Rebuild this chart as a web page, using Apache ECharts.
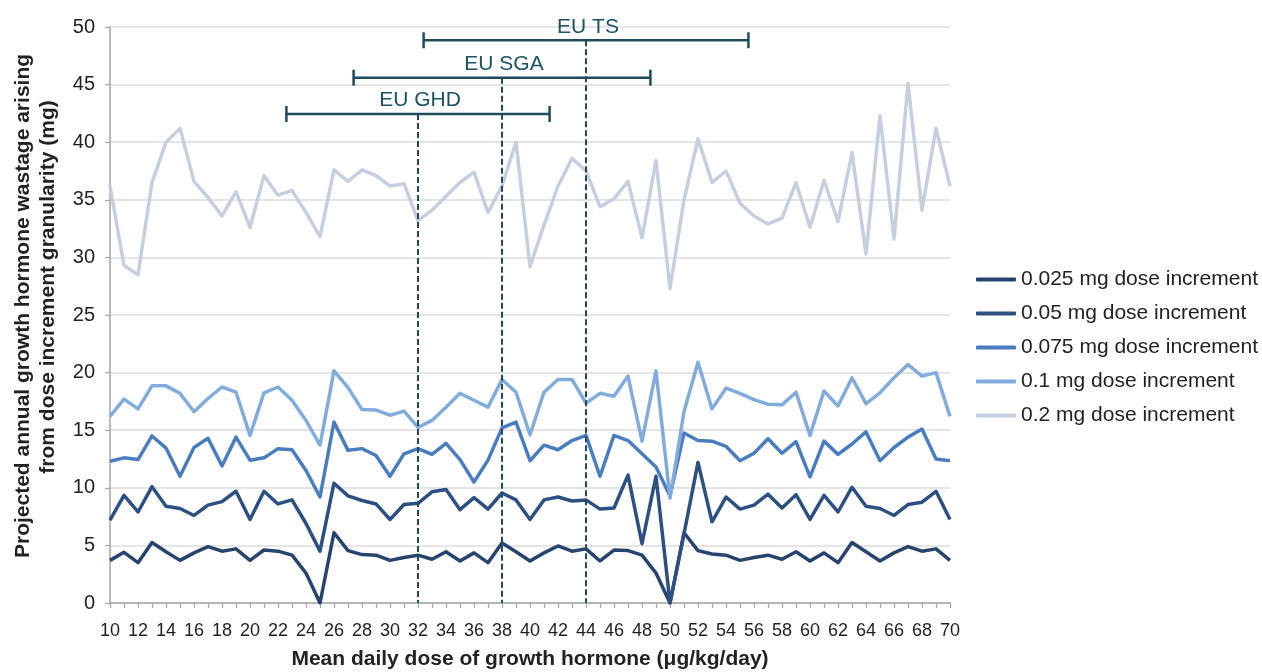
<!DOCTYPE html>
<html>
<head>
<meta charset="utf-8">
<title>Growth hormone wastage by dose increment</title>
<script src="https://cdn.jsdelivr.net/npm/echarts@6/dist/echarts.min.js"></script>
<style>
  html, body { margin: 0; padding: 0; background: #ffffff; }
  #chart { width: 1262px; height: 672px; }
</style>
</head>
<body>
<div id="chart"></div>
<script>
// Mean daily dose (µg/kg/day)
const doses = [10, 11, 12, 13, 14, 15, 16, 17, 18, 19, 20, 21, 22, 23, 24, 25, 26, 27, 28, 29,
  30, 31, 32, 33, 34, 35, 36, 37, 38, 39, 40, 41, 42, 43, 44, 45, 46, 47, 48, 49,
  50, 51, 52, 53, 54, 55, 56, 57, 58, 59, 60, 61, 62, 63, 64, 65, 66, 67, 68, 69, 70];

// Projected annual wastage (mg) for each dose increment
const inc025 = [3.7, 4.4, 3.5, 5.25, 4.45, 3.7, 4.35, 4.9, 4.5, 4.7, 3.7, 4.6, 4.5, 4.15, 2.6, 0,
  6.1, 4.55, 4.2, 4.15, 3.7, 3.95, 4.15, 3.8, 4.45, 3.65, 4.35, 3.5, 5.2, 4.45, 3.65, 4.35,
  4.95, 4.5, 4.7, 3.65, 4.6, 4.55, 4.15, 2.6, 0, 6.1, 4.55, 4.25, 4.15, 3.7, 3.95, 4.15,
  3.8, 4.45, 3.65, 4.35, 3.5, 5.25, 4.45, 3.65, 4.35, 4.9, 4.5, 4.7, 3.7];
const inc05 = [7.2, 9.35, 7.9, 10.1, 8.4, 8.2, 7.6, 8.5, 8.8, 9.7, 7.25, 9.7, 8.6, 8.95, 6.9, 4.5,
  10.4, 9.3, 8.9, 8.6, 7.25, 8.55, 8.65, 9.65, 9.85, 8.1, 9.15, 8.15, 9.55, 8.95, 7.25, 8.95,
  9.2, 8.85, 8.95, 8.15, 8.25, 11.1, 5.15, 11.0, 0, 6.0, 12.2, 7.05, 9.2, 8.15, 8.5, 9.45,
  8.25, 9.4, 7.25, 9.35, 7.9, 10.05, 8.4, 8.2, 7.6, 8.55, 8.75, 9.7, 7.25];
const inc075 = [12.3, 12.6, 12.45, 14.5, 13.45, 11.0, 13.5, 14.3, 11.9, 14.4, 12.4, 12.6, 13.4, 13.3, 11.5, 9.2,
  15.7, 13.25, 13.4, 12.8, 11.0, 12.95, 13.4, 12.9, 13.85, 12.45, 10.5, 12.4, 15.2, 15.7, 12.35, 13.7,
  13.3, 14.1, 14.55, 11.0, 14.55, 14.1, 12.95, 11.8, 9.3, 14.75, 14.1, 14.05, 13.6, 12.35, 13.0, 14.25,
  13.0, 14.0, 10.95, 14.05, 12.9, 13.8, 14.85, 12.35, 13.5, 14.4, 15.1, 12.5, 12.35];
const inc10 = [16.2, 17.7, 16.85, 18.85, 18.85, 18.2, 16.6, 17.75, 18.75, 18.3, 14.55, 18.25, 18.75, 17.6, 15.85, 13.7,
  20.15, 18.7, 16.8, 16.75, 16.3, 16.65, 15.25, 15.85, 17.0, 18.2, 17.6, 17.0, 19.4, 18.3, 14.6, 18.3,
  19.4, 19.4, 17.35, 18.2, 17.95, 19.7, 14.05, 20.15, 9.1, 16.6, 20.9, 16.85, 18.65, 18.2, 17.65, 17.25,
  17.2, 18.3, 14.55, 18.4, 17.1, 19.55, 17.3, 18.25, 19.55, 20.7, 19.7, 20.0, 16.2];
const inc20 = [36.2, 29.3, 28.5, 36.5, 40.0, 41.2, 36.6, 35.2, 33.6, 35.7, 32.6, 37.1, 35.4, 35.8, 33.9, 31.8,
  37.6, 36.6, 37.6, 37.1, 36.2, 36.4, 33.2, 34.1, 35.3, 36.5, 37.4, 33.9, 36.2, 40.0, 29.2, 32.8,
  36.2, 38.6, 37.5, 34.4, 35.1, 36.6, 31.7, 38.4, 27.3, 35.0, 40.3, 36.5, 37.5, 34.7, 33.6, 32.9,
  33.4, 36.5, 32.6, 36.7, 33.1, 39.1, 30.3, 42.3, 31.6, 45.1, 34.1, 41.2, 36.2];

const seriesNames = ['0.025 mg dose increment', '0.05 mg dose increment', '0.075 mg dose increment',
  '0.1 mg dose increment', '0.2 mg dose increment'];
const seriesColors = ['#27446f', '#2d4f82', '#4a7dc0', '#82acdc', '#c7cedf'];

// Licensed-indication dose ranges: mean dose and low/high bounds (µg/kg/day)
const bandNames = ['EU GHD', 'EU SGA', 'EU TS'];
const bandMeans = [32, 38, 44];
const bandLows = [22.6, 27.4, 32.4];
const bandHighs = [41.4, 48.6, 55.6];
const bandLevels = [42.45, 45.6, 48.85];

// y-axis ticks
const yTicks = [0, 5, 10, 15, 20, 25, 30, 35, 40, 45, 50];

// axis titles
const xTitle = 'Mean daily dose of growth hormone (\u03bcg/kg/day)';
const yTitleLines = ['Projected annual growth hormone wastage arising',
  'from dose increment granularity (mg)'];

const FONT = '"Liberation Sans", Arial, Helvetica, sans-serif';
const RANGE_COLOR = '#1e4c5c';
const TEXT_COLOR = '#222222';

const chart = echarts.init(document.getElementById('chart'), null, { renderer: 'canvas' });

const lineSeries = [inc025, inc05, inc075, inc10, inc20].map((vals, k) => ({
  name: seriesNames[k],
  type: 'line',
  data: doses.map((d, i) => [d, vals[i]]),
  symbol: 'none',
  smooth: false,
  lineStyle: { color: seriesColors[k], width: 3.5, join: 'round' },
  itemStyle: { color: seriesColors[k] },
  z: 2
}));

const rangeSeries = {
  type: 'custom',
  name: 'ranges',
  silent: true,
  z: 10,
  data: bandNames.map((n, i) => [bandMeans[i], bandLows[i], bandHighs[i], bandLevels[i], i]),
  encode: { x: [0, 1, 2], y: 3 },
  renderItem: function (params, api) {
    const mean = api.value(0), lo = api.value(1), hi = api.value(2), lvl = api.value(3);
    const idx = api.value(4);
    const pLo = api.coord([lo, lvl]);
    const pHi = api.coord([hi, lvl]);
    const pMean = api.coord([mean, lvl]);
    const pBase = api.coord([mean, 0]);
    const cap = 8;
    const solid = { stroke: RANGE_COLOR, lineWidth: 2.5, fill: null };
    return {
      type: 'group',
      children: [
        { type: 'line', shape: { x1: pLo[0], y1: pLo[1], x2: pHi[0], y2: pHi[1] }, style: solid },
        { type: 'line', shape: { x1: pLo[0], y1: pLo[1] - cap, x2: pLo[0], y2: pLo[1] + cap }, style: solid },
        { type: 'line', shape: { x1: pHi[0], y1: pHi[1] - cap, x2: pHi[0], y2: pHi[1] + cap }, style: solid },
        {
          type: 'line',
          shape: { x1: pMean[0], y1: pMean[1], x2: pBase[0], y2: pBase[1] },
          style: { stroke: RANGE_COLOR, lineWidth: 2, lineDash: [6, 3], fill: null }
        },
        {
          type: 'text',
          x: pMean[0] + 2,
          y: pMean[1] - 3,
          style: {
            text: bandNames[idx],
            fill: '#1b5266',
            font: '21px ' + FONT,
            align: 'center',
            verticalAlign: 'bottom'
          }
        }
      ]
    };
  }
};

const option = {
  animation: false,
  backgroundColor: '#ffffff',
  textStyle: { fontFamily: FONT },
  grid: { left: 110, right: 312, top: 27, bottom: 69, containLabel: false, outerBoundsMode: 'none' },
  legend: {
    data: seriesNames,
    orient: 'vertical',
    left: 971,
    top: 264,
    itemWidth: 40,
    itemHeight: 4,
    itemGap: 13,
    icon: 'roundRect',
    textStyle: { fontFamily: FONT, fontSize: 21, color: TEXT_COLOR, lineHeight: 21 }
  },
  graphic: [
    {
      type: 'text',
      x: 23,
      y: 306,
      rotation: Math.PI / 2,
      style: {
        text: yTitleLines[0],
        font: 'bold 21px ' + FONT,
        fill: TEXT_COLOR,
        align: 'center',
        verticalAlign: 'middle'
      }
    },
    {
      type: 'text',
      x: 48,
      y: 287,
      rotation: Math.PI / 2,
      style: {
        text: yTitleLines[1],
        font: 'bold 21px ' + FONT,
        fill: TEXT_COLOR,
        align: 'center',
        verticalAlign: 'middle'
      }
    }
  ],
  xAxis: {
    type: 'value',
    min: 10,
    max: 70,
    interval: 2,
    name: xTitle,
    nameLocation: 'middle',
    nameGap: 46,
    nameTextStyle: { fontFamily: FONT, fontSize: 21, fontWeight: 'bold', color: TEXT_COLOR },
    axisLine: { show: true, onZero: false, lineStyle: { color: '#a6a6a6', width: 1.5 } },
    axisTick: { show: true, length: 5, lineStyle: { color: '#a6a6a6', width: 1.2 } },
    minorTick: { show: true, splitNumber: 2, length: 5, lineStyle: { color: '#a6a6a6', width: 1.2 } },
    axisLabel: { fontFamily: FONT, fontSize: 18, color: '#1f1f1f', margin: 19 },
    splitLine: { show: false }
  },
  yAxis: {
    type: 'value',
    min: yTicks[0],
    max: yTicks[yTicks.length - 1],
    interval: yTicks[1] - yTicks[0],
    axisLine: { show: true, lineStyle: { color: '#a6a6a6', width: 1.5 } },
    axisTick: { show: true, length: 5, lineStyle: { color: '#a6a6a6', width: 1.2 } },
    axisLabel: { fontFamily: FONT, fontSize: 20, color: '#1f1f1f', margin: 15 },
    splitLine: { show: true, lineStyle: { color: '#dcdcdc', width: 1.5 } }
  },
  series: lineSeries.concat([rangeSeries])
};

chart.setOption(option);
</script>
</body>
</html>
